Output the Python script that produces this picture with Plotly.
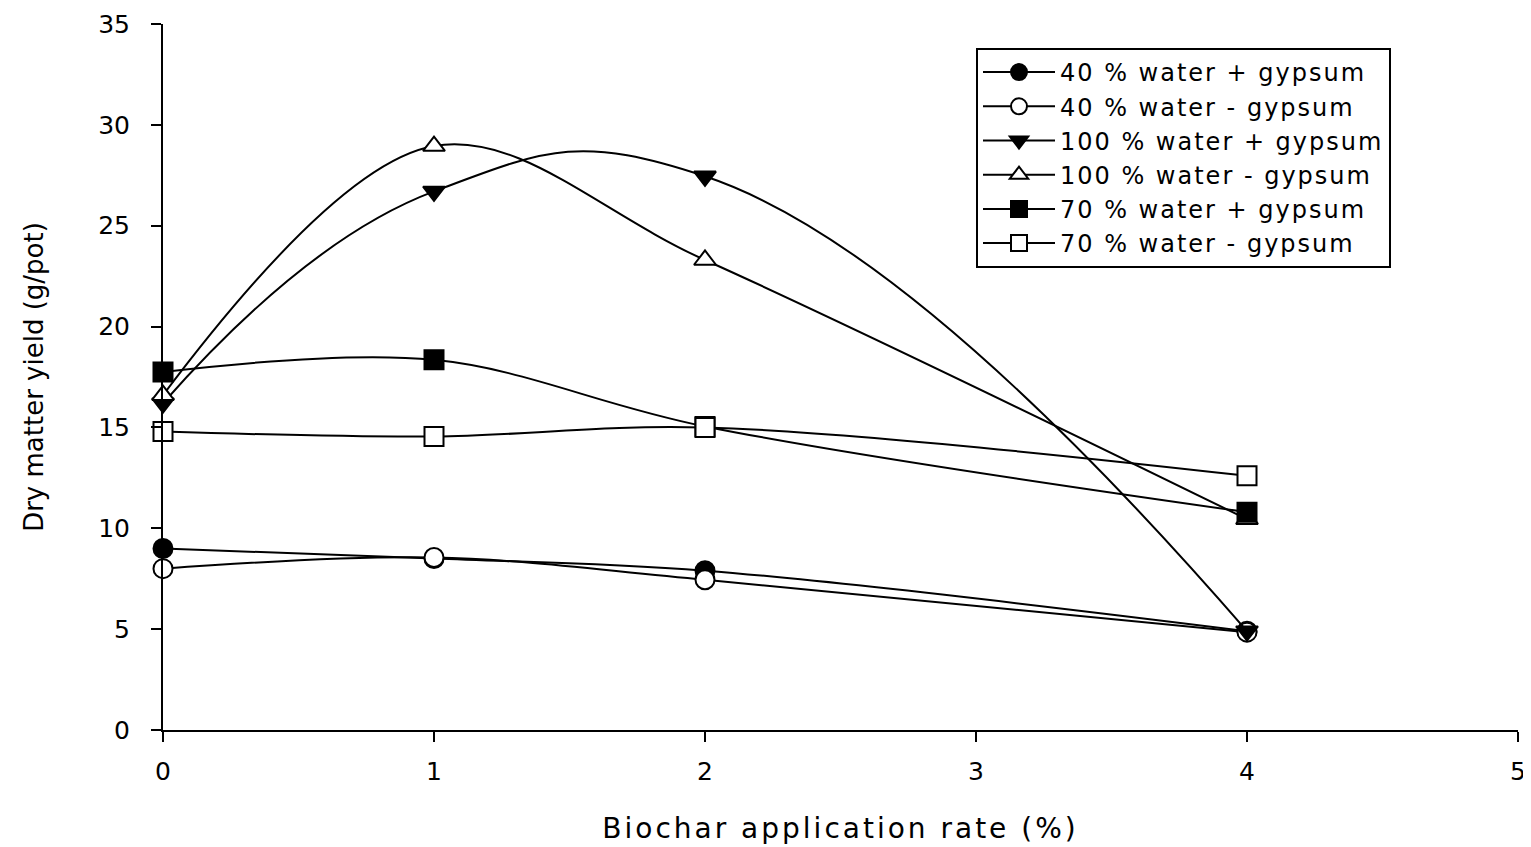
import plotly.graph_objects as go

x_vals = [0, 1, 2, 4]
w40_plus = [9.0, 8.5, 7.9, 4.9]
w40_minus = [8.0, 8.55, 7.45, 4.85]
w100_plus = [16.2, 26.7, 27.45, 4.9]
w100_minus = [16.6, 28.95, 23.3, 10.45]
w70_plus = [17.75, 18.35, 15.05, 10.8]
w70_minus = [14.8, 14.55, 15.0, 12.6]

series = [
    ("40 % water + gypsum", w40_plus, "circle", "black", 1.0),
    ("40 % water - gypsum", w40_minus, "circle", "white", 1.0),
    ("100 % water + gypsum", w100_plus, "triangle-down", "black", 1.3),
    ("100 % water - gypsum", w100_minus, "triangle-up", "white", 1.0),
    ("70 % water + gypsum", w70_plus, "square", "black", 1.0),
    ("70 % water - gypsum", w70_minus, "square", "white", 1.0),
]


def spaced(t, px):
    return '<span style="letter-spacing:%spx">%s</span>' % (px, t)


fig = go.Figure()
for name, ys, sym, fill, sm in series:
    fig.add_trace(go.Scatter(
        x=x_vals, y=ys, name=spaced(name, 2), mode="lines+markers",
        line=dict(color="black", width=2, shape="spline", smoothing=sm),
        marker=dict(symbol=sym, size=19, color=fill,
                    line=dict(color="black", width=2)),
        cliponaxis=False,
    ))

font = "DejaVu Sans, Liberation Sans, Arial, sans-serif"
# page body has an 8px default margin, so margins are reduced by 8 on left/top
fig.update_layout(
    width=1531, height=847,
    margin=dict(l=155, r=21, t=16, b=125),
    plot_bgcolor="white", paper_bgcolor="white",
    font=dict(family=font, color="black", size=25),
    showlegend=True,
    legend=dict(x=0.6, y=0.966, xanchor="left", yanchor="top",
                bordercolor="black", borderwidth=2, bgcolor="white",
                font=dict(size=24, family=font), tracegroupgap=0,
                itemwidth=72),
    xaxis=dict(range=[0, 5], tickvals=[0, 1, 2, 3, 4, 5],
               showline=True, linecolor="black", linewidth=2,
               ticks="outside", ticklen=10, tickwidth=2, tickcolor="black",
               ticklabelstandoff=8,
               showgrid=False, zeroline=False, automargin=False,
               title=dict(text=spaced("Biochar application rate (%)", 3),
                          font=dict(size=28), standoff=33)),
    yaxis=dict(range=[0, 35], tickvals=[0, 5, 10, 15, 20, 25, 30, 35],
               showline=True, linecolor="black", linewidth=2,
               ticks="outside", ticklen=10, tickwidth=2, tickcolor="black",
               ticklabelstandoff=16,
               showgrid=False, zeroline=False, automargin=False,
               title=dict(text="Dry matter yield (g/pot)", font=dict(size=26), standoff=47)),
)

fig.write_html("out.html")
